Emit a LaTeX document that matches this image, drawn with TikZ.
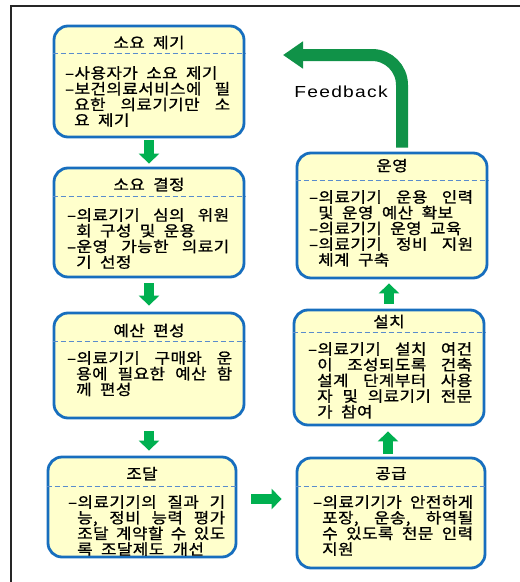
\documentclass[tikz,border=0pt]{standalone}
\usepackage{fontspec}
\newfontfamily\kfont[FakeStretch=1.12,LetterSpace=3,WordSpace=2,FakeBold=1.0]{Noto Sans CJK KR}
\newfontfamily\efont[FakeStretch=1.2,LetterSpace=8]{Liberation Sans}
\usetikzlibrary{arrows.meta}
\definecolor{boxblue}{RGB}{23,110,190}
\definecolor{dashblue}{RGB}{90,140,205}
\definecolor{boxfill}{RGB}{255,255,204}
\definecolor{agreen}{RGB}{0,176,80}
\definecolor{fgreen}{RGB}{16,146,72}
\newlength\bw
\newlength\ind
\newcommand\Lf[1]{\makebox[\bw][s]{–#1}}
\newcommand\Ll[1]{–#1}
\newcommand\Cf[1]{\hspace*{\ind}\makebox[\dimexpr\bw-\ind\relax][s]{#1}}
\newcommand\Cl[1]{\hspace*{\ind}#1}
\newcommand\setbw[1]{\global\bw=#1\relax}
\tikzset{
  box/.style={draw=boxblue, line width=2.8pt, fill=boxfill, rounded corners=14pt, inner sep=0pt},
  dashline/.style={draw=dashblue, line width=1.6pt, dash pattern=on 5pt off 3pt},
  head/.style={font=\kfont\fontsize{15}{16}\selectfont, inner sep=0pt},
  body/.style={font=\kfont\fontsize{15}{15.7}\selectfont\global\settowidth\ind{–}, align=left, inner sep=0pt, anchor=north west},
  garrow/.style={draw=agreen, line width=10pt, -{Triangle[width=20pt,length=10pt]}},
  fbarrow/.style={draw=fgreen, line width=12pt, rounded corners=30pt, -{Triangle[width=26pt,length=20pt]}}
}
\begin{document}
\begin{tikzpicture}[x=1pt,y=-1pt]
\useasboundingbox (0,0) rectangle (520,582);
\draw[line width=1.3pt, black!85] (11,582) -- (11,6) -- (520,6);

% boxes
\node[box, minimum width=190pt, minimum height=111pt] (b1) at (149,81.5) {};
\node[box, minimum width=190pt, minimum height=109pt] (b2) at (149,222.5) {};
\node[box, minimum width=190pt, minimum height=105pt] (b3) at (149,365.5) {};
\node[box, minimum width=188pt, minimum height=100pt] (b4) at (142,507) {};
\node[box, minimum width=188pt, minimum height=110pt] (b5) at (391,513) {};
\node[box, minimum width=190pt, minimum height=115pt] (b6) at (389,367.5) {};
\node[box, minimum width=190pt, minimum height=125pt] (b7) at (392,215.5) {};

% dashed separators
\draw[dashline] ([yshift=-29pt]b1.north west) -- ([yshift=-29pt]b1.north east);
\draw[dashline] ([yshift=-30pt]b2.north west) -- ([yshift=-30pt]b2.north east);
\draw[dashline] ([yshift=-30pt]b3.north west) -- ([yshift=-30pt]b3.north east);
\draw[dashline] ([yshift=-31pt]b4.north west) -- ([yshift=-31pt]b4.north east);
\draw[dashline] ([yshift=-30pt]b5.north west) -- ([yshift=-30pt]b5.north east);
\draw[dashline] ([yshift=-24pt]b6.north west) -- ([yshift=-24pt]b6.north east);
\draw[dashline] ([yshift=-29pt]b7.north west) -- ([yshift=-29pt]b7.north east);

% headers
\node[head] (h1) at ([yshift=-18pt]b1.north) {소요 제기};
\node[head] (h2) at ([yshift=-18pt]b2.north) {소요 결정};
\node[head] (h3) at ([yshift=-19pt]b3.north) {예산 편성};
\node[head] (h4) at ([yshift=-18pt]b4.north) {조달};
\node[head] (h5) at ([yshift=-17pt]b5.north) {공급};
\node[head] (h6) at ([yshift=-13pt]b6.north) {설치};
\node[head] (h7) at ([yshift=-14pt]b7.north) {운영};

% bodies
\setbw{165pt}
\node[body] (t1) at (65,66) {%
\Ll{사용자가 소요 제기}\\
\Lf{보건의료서비스에 필}\\
\Cf{요한 의료기기만 소}\\
\Cl{요 제기}};
\setbw{162pt}
\node[body] (t2) at (67,208) {%
\Lf{의료기기 심의 위원}\\
\Cl{회 구성 및 운용}\\
\Lf{운영 가능한 의료기}\\
\Cl{기 선정}};
\setbw{165pt}
\node[body] (t3) at (67,351) {%
\Lf{의료기기 구매와 운}\\
\Cf{용에 필요한 예산 함}\\
\Cl{께 편성}};
\setbw{157pt}
\node[body] (t4) at (68,495) {%
\Lf{의료기기의 질과 기}\\
\Cf{능, 정비 능력 평가}\\
\Cf{조달 계약할 수 있도}\\
\Cl{록 조달제도 개선}};
\setbw{160pt}
\node[body] (t5) at (313,495) {%
\Lf{의료기기가 안전하게}\\
\Cf{포장, 운송, 하역될}\\
\Cf{수 있도록 전문 인력}\\
\Cl{지원}};
\setbw{164pt}
\node[body] (t6) at (308,342) {%
\Lf{의료기기 설치 여건}\\
\Cf{이 조성되도록 건축}\\
\Cf{설계 단계부터 사용}\\
\Cf{자 및 의료기기 전문}\\
\Cl{가 참여}};
\setbw{164pt}
\node[body] (t7) at (309,190) {%
\Lf{의료기기 운용 인력}\\
\Cl{및 운영 예산 확보}\\
\Ll{의료기기 운영 교육}\\
\Lf{의료기기 정비 지원}\\
\Cl{체계 구축}};

% flow arrows
\draw[garrow, shorten <=2pt, shorten >=3pt] (b1.south) -- (b2.north);
\draw[garrow, shorten <=5pt, shorten >=6pt] (b2.south) -- (b3.north);
\draw[garrow, shorten <=12pt, shorten >=5pt] (b3.south) -- (b3.south |- b4.north);
\draw[garrow, shorten <=14pt, shorten >=14pt] ([yshift=8pt]b4.east) -- ([yshift=8pt]b4.east -| b5.west);
\draw[garrow, shorten <=3pt, shorten >=5pt] ([xshift=-3pt]b5.north) -- ([xshift=-3pt]b5.north |- b6.south);
\draw[garrow, shorten <=5pt, shorten >=4pt] (b6.north) -- (b6.north |- b7.south);

% feedback
\coordinate (fbend) at (283,55);
\draw[fbarrow, shorten <=4pt] ([xshift=10pt]b7.north) |- (fbend);
\node[font=\efont\fontsize{16}{18}\selectfont, inner sep=0pt] (fb) at (341,92) {Feedback};
\end{tikzpicture}
\end{document}
